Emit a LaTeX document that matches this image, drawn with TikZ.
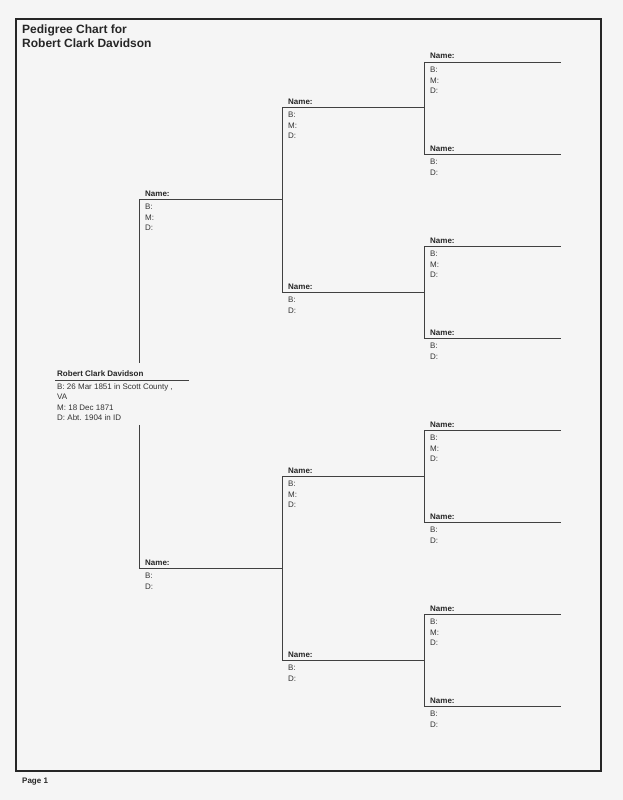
\documentclass[tikz,border=0pt]{standalone}
\usepackage{fontspec}
\setmainfont{Liberation Sans}
\begin{document}
\begin{tikzpicture}[x=1pt, y=-1pt,
        rule/.style={draw=black!75, line width=0.8pt},
        namelbl/.style={anchor=base west, inner sep=0pt, text=black!85,
            font=\fontsize{8}{10}\selectfont\bfseries},
        datalbl/.style={anchor=north west, inner sep=0pt, align=left, text=black!80,
            font=\fontsize{8}{10.4}\selectfont}]
        % Page
        \useasboundingbox[fill=black!4] (0,0) rectangle (623,800);
        \draw[black!85, line width=2.5pt] (16,19) rectangle (601,771);
        \node[namelbl, align=left, font=\fontsize{12}{14}\selectfont\bfseries] (title) at (22,48)
            {Pedigree Chart for\\Robert Clark Davidson};
        \node[namelbl] (page) at (22,783) {Page 1};

        % Lines of the ancestors
        \coordinate (f) at (139,199);   \coordinate (m) at (139,568);
        \coordinate (ff) at (282,107);  \coordinate (fm) at (282,292);
        \coordinate (mf) at (282,476);  \coordinate (mm) at (282,660);
        \foreach \p/\y in {fff/62, ffm/154, fmf/246, fmm/338, mff/430, mfm/522, mmf/614, mmm/706}
            \coordinate (\p) at (424,\y);

        % Root person
        \coordinate (root) at (55,380);
        \node[namelbl] (root-name) at ([shift={(2,-4)}]root) {Robert Clark Davidson};
        \node[datalbl] (root-data) at ([shift={(2,3.3)}]root)
            {B: 26 Mar 1851 in Scott County ,\\VA\\M: 18 Dec 1871\\D: Abt. 1904 in ID};
        \draw[rule] (root) -- ++(134,0);
        \coordinate (gap-top) at ([yshift=7pt]root-name.north);
        \coordinate (gap-bottom) at ([yshift=-4pt]root-data.south);

        % Name blocks
        \foreach \p in {f, ff, mf, fff, fmf, mff, mmf} {
            \node[namelbl] (\p-name) at ([shift={(6,-3)}]\p) {Name:};
            \node[datalbl] (\p-data) at ([shift={(6,5)}]\p) {B:\\M:\\D:};
        }
        \foreach \p in {m, fm, mm, ffm, fmm, mfm, mmm} {
            \node[namelbl] (\p-name) at ([shift={(6,-3)}]\p) {Name:};
            \node[datalbl] (\p-data) at ([shift={(6,5)}]\p) {B:\\D:};
        }

        % Horizontal lines
        \foreach \p in {fff, ffm, fmf, fmm, mff, mfm, mmf, mmm}
            \draw[rule] (\p) -- ++(137,0);
        \foreach \c/\p in {ff/fff, fm/fmf, mf/mff, mm/mmf, f/ff, m/mf}
            \draw[rule] (\c) -- (\c -| \p);

        % Vertical lines
        \foreach \a/\b in {fff/ffm, fmf/fmm, mff/mfm, mmf/mmm, ff/fm, mf/mm}
            \draw[rule] (\a) -- (\b);
        \draw[rule] (f) -- (f |- gap-top);
        \draw[rule] (m |- gap-bottom) -- (m);
    \end{tikzpicture}
\end{document}
